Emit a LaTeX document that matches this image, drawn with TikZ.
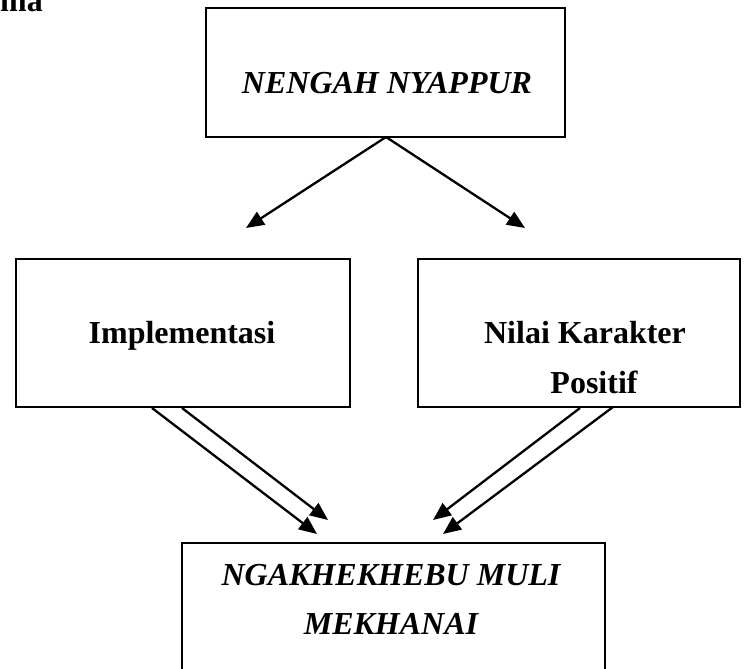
\documentclass[tikz,border=0pt]{standalone}
\usepackage{fontspec}
\setmainfont{Liberation Serif}
\usetikzlibrary{arrows.meta}
\begin{document}
\begin{tikzpicture}[x=1pt,y=-1pt,
  boxst/.style={draw,line width=2pt,rectangle,inner sep=0pt},
  conn/.style={line width=2.3pt,-{Triangle[length=18pt,width=15pt]}},
  lbl/.style={font=\fontsize{32}{36}\selectfont\bfseries,inner sep=0pt,anchor=base},
  ilbl/.style={font=\fontsize{32}{36}\selectfont\bfseries\itshape,inner sep=0pt,anchor=base}]
\useasboundingbox (0,0) rectangle (744,669);
\node[lbl,anchor=base west] (ma) at (0,12) {ma};
\node[boxst,minimum width=359pt,minimum height=129pt] (top) at (385,72.5) {};
\node[ilbl] (toptxt) at (387,93) {NENGAH NYAPPUR};
\node[boxst,minimum width=334pt,minimum height=148pt] (left) at (183,333) {};
\node[lbl] (lefttxt) at (182,343) {Implementasi};
\node[boxst,minimum width=322pt,minimum height=148pt] (right) at (579,333) {};
\node[lbl] (righttxt1) at (585,343) {Nilai Karakter};
\node[lbl] (righttxt2) at (594,393) {Positif};
\node[boxst,minimum width=423pt,minimum height=170pt] (bot) at (393.5,628) {};
\node[ilbl] (bottxt1) at (391,585) {NGAKHEKHEBU MULI};
\node[ilbl] (bottxt2) at (391,634) {MEKHANAI};
\coordinate (apex) at (386,137);
\coordinate (tl) at (246,228);
\coordinate (tr) at (525,228);
\draw[conn] (apex) -- (tl);
\draw[conn] (apex) -- (tr);
\coordinate (l1s) at (152,408);
\coordinate (l1e) at (317,534);
\coordinate (l2s) at (182,408);
\coordinate (l2e) at (328,520);
\coordinate (r1s) at (580,408);
\coordinate (r1e) at (433,520);
\coordinate (r2s) at (613,407);
\coordinate (r2e) at (443,534);
\draw[conn] (l1s) -- (l1e);
\draw[conn] (l2s) -- (l2e);
\draw[conn] (r1s) -- (r1e);
\draw[conn] (r2s) -- (r2e);
\end{tikzpicture}
\end{document}
